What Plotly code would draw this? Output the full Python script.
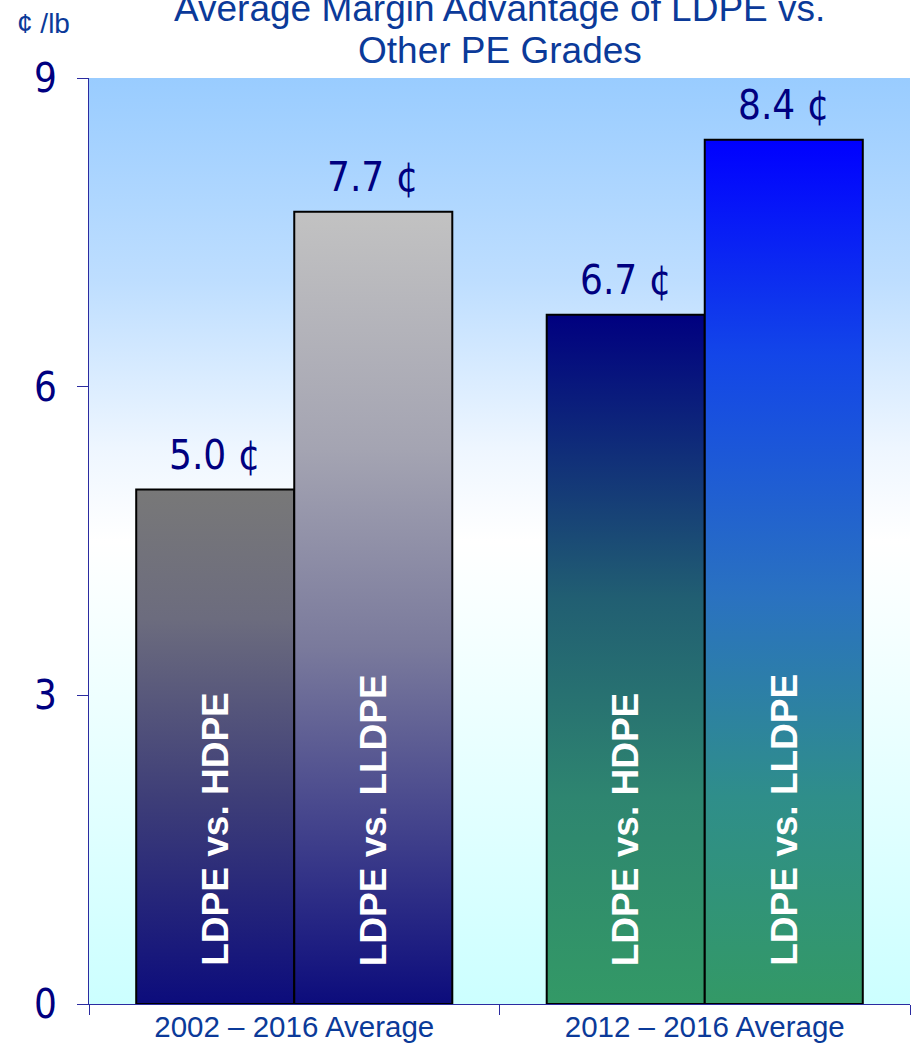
import plotly.graph_objects as go

# ---- data -------------------------------------------------------------
periods = ["2002 – 2016 Average", "2012 – 2016 Average"]
comparisons = ["LDPE vs. HDPE", "LDPE vs. LLDPE"]
# margin advantage, cents per pound: one list per period, in comparison order
margins_2002_2016 = [5.0, 7.7]
margins_2012_2016 = [6.7, 8.4]
y_ticks = [0, 3, 6, 9]

# vertical gradients (bottom -> top) for each bar
bar_scales = [
    [[[0, "#0C0C7C"], [0.4, "#3E3E78"], [0.75, "#6C6C7E"], [1, "#787878"]],
     [[0, "#0C0C7C"], [0.45, "#7A7A9C"], [0.7, "#A4A4B2"], [1, "#C2C2C2"]]],
    [[[0, "#339966"], [0.3, "#2E8570"], [0.59, "#215E72"], [1, "#000080"]],
     [[0, "#339966"], [0.24, "#2F8E8A"], [0.47, "#2A72C0"], [0.75, "#1346E8"], [1, "#0000FF"]]],
]
bg_scale = [[0, "#CCFFFF"], [0.34, "#EFFFFF"], [0.5, "#FFFFFF"], [0.6, "#EEF6FF"],
            [0.78, "#BEDEFF"], [1, "#99CCFF"]]

W, H = 911, 1044
M = dict(l=89, r=1, t=78, b=40)
Y_MAX = 9
X_RANGE = [-0.5, len(periods) - 0.5]
BAR_W = 0.385

NAVY = "#000080"
TITLE_BLUE = "#0B3A99"
AXIS_BLUE = "#2B2BA0"

fig = go.Figure()

# plot-area background gradient
fig.add_trace(go.Scatter(
    x=[X_RANGE[0], X_RANGE[1], X_RANGE[1], X_RANGE[0], X_RANGE[0]],
    y=[0, 0, Y_MAX, Y_MAX, 0],
    mode="none", fill="toself",
    fillgradient=dict(type="vertical", colorscale=bg_scale, start=0, stop=Y_MAX),
    hoverinfo="skip", showlegend=False,
))

annotations = []
series = [margins_2002_2016, margins_2012_2016]
for gi, (period, vals) in enumerate(zip(periods, series)):
    n = len(vals)
    for bi, v in enumerate(vals):
        xc = gi + (bi - (n - 1) / 2) * BAR_W
        x0, x1 = xc - BAR_W / 2, xc + BAR_W / 2
        fig.add_trace(go.Scatter(
            x=[x0, x1, x1, x0, x0], y=[0, 0, v, v, 0],
            mode="lines", fill="toself",
            line=dict(color="black", width=2),
            fillgradient=dict(type="vertical", colorscale=bar_scales[gi][bi],
                              start=0, stop=v),
            name=f"{comparisons[bi]} ({period})",
            hovertemplate=f"{comparisons[bi]}<br>{period}<br>{v:.1f} ¢/lb<extra></extra>",
            showlegend=False,
        ))
        # value label above the bar
        annotations.append(dict(
            x=xc, y=v, xref="x", yref="y", text=f"{v:.1f} ¢",
            showarrow=False, yanchor="bottom", yshift=10,
            font=dict(family="DejaVu Sans Condensed", size=40, color=NAVY),
        ))
        # rotated comparison label inside the bar
        annotations.append(dict(
            x=xc, y=0, xref="x", yref="y", text=f"<b>{comparisons[bi]}</b>",
            showarrow=False, textangle=-90, yanchor="bottom", yshift=36,
            font=dict(family="Liberation Sans", size=37, color="white"),
        ))

plot_h = H - M["t"] - M["b"]
plot_w = W - M["l"] - M["r"]


def py(px):
    return (H - M["b"] - px) / plot_h


def px_x(px):
    return (px - M["l"]) / plot_w


# two-line title
for text, cy in [("Average Margin Advantage of LDPE vs.", 8), ("Other PE Grades", 50.5)]:
    annotations.append(dict(
        x=0.5, y=py(cy), xref="paper", yref="paper", text=text,
        showarrow=False, xanchor="center", yanchor="middle",
        font=dict(family="Liberation Sans", size=37, color=TITLE_BLUE),
    ))

# unit label
annotations.append(dict(
    x=px_x(15), y=py(24), xref="paper", yref="paper", text="¢ /lb",
    showarrow=False, xanchor="left", yanchor="middle",
    font=dict(family="Liberation Sans", size=28, color=TITLE_BLUE),
))

fig.update_layout(
    width=W, height=H, margin=M,
    paper_bgcolor="white", plot_bgcolor="white",
    showlegend=False,
    annotations=annotations,
    xaxis=dict(
        range=X_RANGE, showgrid=False, zeroline=False, automargin=False,
        showline=True, linecolor=AXIS_BLUE, linewidth=1,
        tickvals=list(range(len(periods))), ticktext=periods,
        ticks="", ticklen=0, ticklabelstandoff=-3,
        tickfont=dict(family="Liberation Sans", size=29.5, color=TITLE_BLUE),
        minor=dict(tickvals=[i - 0.5 for i in range(len(periods) + 1)],
                   ticks="outside", ticklen=10, tickcolor=AXIS_BLUE, tickwidth=1),
        fixedrange=True,
    ),
    yaxis=dict(
        range=[0, Y_MAX], showgrid=False, zeroline=False, automargin=False,
        showline=True, linecolor=AXIS_BLUE, linewidth=1,
        tickvals=y_ticks, ticks="outside", ticklen=11,
        tickcolor=AXIS_BLUE, tickwidth=1, ticklabelstandoff=12,
        tickfont=dict(family="DejaVu Sans Condensed", size=40, color=NAVY),
        fixedrange=True,
    ),
)

fig.write_html("out.html", config={"displayModeBar": False})
